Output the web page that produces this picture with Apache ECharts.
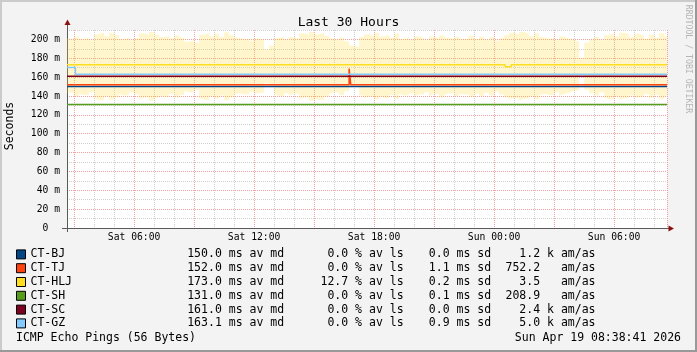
<!DOCTYPE html>
<html>
<head>
<meta charset="utf-8">
<script src="https://cdn.jsdelivr.net/npm/echarts@6/dist/echarts.min.js"></script>
<style>
  html, body { margin: 0; padding: 0; background: #f3f3f3; }
  #chart { width: 697px; height: 352px; }
</style>
</head>
<body>
<div id="chart"></div>
<script>
const MONO = 'DejaVu Sans Mono';

// targets
const names = ['CT-BJ', 'CT-TJ', 'CT-HLJ', 'CT-SH', 'CT-SC', 'CT-GZ'];
const colors = ['#004586', '#ff420e', '#ffde20', '#579d1c', '#7e0021', '#83caff'];

// legend statistics
const medianMs = [150.0, 152.0, 173.0, 131.0, 161.0, 163.1];
const lossPct = [0.0, 0.0, 12.7, 0.0, 0.0, 0.0];
const sdMs = [0.0, 1.1, 0.2, 0.1, 0.0, 0.9];
const amasVal = ['1.2', '752.2', '3.5', '208.9', '2.4', '5.0'];
const amasUnit = ['k', ' ', ' ', ' ', 'k', 'k'];

// y ticks
const yMin = 0, yMax = 210, yStep = 10;

// time window
const tStart = new Date(2026, 3, 18, 2, 38, 41).getTime();
const tEnd = new Date(2026, 3, 19, 8, 38, 41).getTime();
const t = (d, h, m) => new Date(2026, 3, d, h, m, 0).getTime();

// median lines (value holds until the next time)
const bjTimes = [tStart, tEnd];
const bjValues = [150.0, 150.0];
const tjTimes = [tStart, t(18, 16, 45), t(18, 16, 50), tEnd];
const tjValues = [152.0, 169.0, 152.0, 152.0];
const hljTimes = [tStart, t(19, 0, 33), t(19, 0, 51), tEnd];
const hljValues = [173.2, 171.0, 173.2, 173.2];
const shTimes = [tStart, tEnd];
const shValues = [131.0, 131.0];
const scTimes = [tStart, tEnd];
const scValues = [161.0, 161.0];
const gzTimes = [tStart, t(18, 3, 4), tEnd];
const gzValues = [170.3, 163.0, 163.0];

const lineTimes = [bjTimes, tjTimes, hljTimes, shTimes, scTimes, gzTimes];
const lineValues = [bjValues, tjValues, hljValues, shValues, scValues, gzValues];

// CT-HLJ deviation band, 15 minute bins from Sat 02:30
const smokeStart = t(18, 2, 30);
const smokeCenter = 171.5;
const hljSdev = [
  60, 56, 63, 58, 61, 55, 68, 72, 64, 71,
  66, 58, 62, 55, 60, 70, 66, 73, 67, 62,
  65, 59, 66, 61, 52, 55, 50, 67, 71, 64,
  69, 62, 72, 66, 61, 57, 60, 54, 59, 56,
  36, 44, 60, 63, 57, 62, 58, 70, 66, 73,
  68, 71, 64, 59, 55, 61, 53, 44, 40, 62,
  68, 64, 70, 63, 67, 61, 69, 58, 62, 57,
  64, 60, 55, 63, 59, 66, 61, 57, 63, 58,
  60, 65, 58, 63, 56, 62, 54, 60, 66, 71,
  67, 73, 69, 64, 70, 62, 58, 61, 55, 63,
  59, 56, 52, 18, 50, 57, 62, 55, 66, 70,
  64, 71, 68, 62, 69, 65, 59, 67, 61, 70,
  64, 60
];

const days = ['Sun', 'Mon', 'Tue', 'Wed', 'Thu', 'Fri', 'Sat'];
const pad2 = n => String(n).padStart(2, '0');

const chart = echarts.init(document.getElementById('chart'), null, { renderer: 'canvas' });

let series = [];

const smokeTimes = hljSdev.map((s, i) => smokeStart + i * 15 * 60 * 1000);
series.push({
  name: 'hljLow',
  type: 'line',
  stack: 'smoke',
  step: 'end',
  symbol: 'none',
  silent: true,
  lineStyle: { width: 0, opacity: 0 },
  data: hljSdev.map((s, i) => [smokeTimes[i], smokeCenter - s / 2])
});
series.push({
  name: 'hljBand',
  type: 'line',
  stack: 'smoke',
  step: 'end',
  symbol: 'none',
  silent: true,
  lineStyle: { width: 0, opacity: 0 },
  areaStyle: { color: 'rgba(255,214,40,0.23)', opacity: 1 },
  data: hljSdev.map((s, i) => [smokeTimes[i], s])
});

names.forEach((name, i) => {
  series.push({
    name: name,
    type: 'line',
    step: 'end',
    symbol: 'none',
    color: colors[i],
    lineStyle: { width: 1.5, color: colors[i] },
    itemStyle: { color: colors[i] },
    data: lineTimes[i].map((x, j) => [x, lineValues[i][j]])
  });
});

const option = {
  animation: false,
  backgroundColor: '#f3f3f3',
  title: {
    text: 'Last 30 Hours',
    left: 'center',
    top: 11,
    textStyle: { fontFamily: MONO, fontSize: 13, fontWeight: 'normal', color: '#000' }
  },
  grid: {
    left: 67, right: 30, top: 30, bottom: 124,
    show: true, backgroundColor: '#ffffff', borderWidth: 0,
    containLabel: false, outerBoundsMode: 'none'
  },
  legend: {
    data: names,
    orient: 'vertical',
    left: 16,
    top: 247.5,
    padding: 0,
    itemGap: 0,
    itemWidth: 9,
    itemHeight: 9,
    icon: 'rect',
    selectedMode: false,
    itemStyle: { borderColor: '#000', borderWidth: 1 },
    textStyle: {
      fontFamily: MONO, fontSize: 11.5, color: '#000', lineHeight: 13.8,
      rich: {
        n: { width: 156.7, fontFamily: MONO, fontSize: 11.5, lineHeight: 13.8 },
        m: { width: 133.3, fontFamily: MONO, fontSize: 11.5, lineHeight: 13.8 },
        l: { width: 108.3, fontFamily: MONO, fontSize: 11.5, lineHeight: 13.8 },
        s: { width: 76.7, fontFamily: MONO, fontSize: 11.5, lineHeight: 13.8 },
        a: { fontFamily: MONO, fontSize: 11.5, lineHeight: 13.8 }
      }
    },
    formatter: function (name) {
      const i = names.indexOf(name);
      return '{n|' + name + '}' +
        '{m|' + medianMs[i].toFixed(1) + ' ms av md}' +
        '{l|' + lossPct[i].toFixed(1).padStart(4) + ' % av ls}' +
        '{s|' + sdMs[i].toFixed(1) + ' ms sd}' +
        '{a|' + amasVal[i].padStart(5) + ' ' + amasUnit[i] + ' am/as}';
    }
  },
  xAxis: {
    type: 'time',
    min: tStart,
    max: tEnd,
    minInterval: 3600 * 1000,
    maxInterval: 3600 * 1000,
    axisLine: { show: true, lineStyle: { color: '#5a5a5a', width: 1 } },
    axisTick: { show: false },
    axisLabel: {
      fontFamily: MONO, fontSize: 9.7, color: '#000', margin: 4, hideOverlap: false,
      showMinLabel: false, showMaxLabel: false,
      formatter: function (value) {
        const d = new Date(value);
        if (d.getMinutes() !== 0 || d.getSeconds() !== 0 || d.getHours() % 6 !== 0) return '';
        return days[d.getDay()] + ' ' + pad2(d.getHours()) + ':00';
      }
    },
    splitLine: {
      show: true,
      lineStyle: { color: ['#d0d0d0', '#f0a0a0', '#d0d0d0'], type: [1, 1], width: 1 }
    }
  },
  yAxis: {
    type: 'value',
    min: yMin,
    max: yMax,
    interval: yStep,
    axisLine: { show: true, lineStyle: { color: '#5a5a5a', width: 1 } },
    axisTick: { show: false },
    axisLabel: {
      fontFamily: MONO, fontSize: 9.7, color: '#000', margin: 7,
      formatter: function (v) {
        if (v % 20 !== 0) return '';
        return v === 0 ? '0  ' : v + ' m';
      }
    },
    splitLine: {
      show: true,
      lineStyle: { color: ['#f0a0a0', '#d0d0d0'], type: [1, 1], width: 1 }
    }
  },
  graphic: [
    // frame shading
    { type: 'rect', shape: { x: 0, y: 0, width: 697, height: 2 }, style: { fill: '#cbcbcb' }, silent: true },
    { type: 'rect', shape: { x: 0, y: 0, width: 2, height: 352 }, style: { fill: '#cbcbcb' }, silent: true },
    { type: 'rect', shape: { x: 695, y: 0, width: 2, height: 352 }, style: { fill: '#999999' }, silent: true },
    { type: 'rect', shape: { x: 0, y: 350, width: 697, height: 2 }, style: { fill: '#999999' }, silent: true },
    // axis extensions and arrows
    { type: 'line', shape: { x1: 67.5, y1: 23, x2: 67.5, y2: 30 }, style: { stroke: '#5a5a5a', lineWidth: 1 }, silent: true },
    { type: 'line', shape: { x1: 67.5, y1: 228, x2: 67.5, y2: 232 }, style: { stroke: '#5a5a5a', lineWidth: 1 }, silent: true },
    { type: 'line', shape: { x1: 62, y1: 228.5, x2: 67, y2: 228.5 }, style: { stroke: '#5a5a5a', lineWidth: 1 }, silent: true },
    { type: 'line', shape: { x1: 667, y1: 228.5, x2: 670, y2: 228.5 }, style: { stroke: '#5a5a5a', lineWidth: 1 }, silent: true },
    { type: 'polygon', shape: { points: [[64.5, 25], [70.5, 25], [67.5, 19.5]] }, style: { fill: '#8b1010' }, silent: true },
    { type: 'polygon', shape: { points: [[668.5, 225.5], [668.5, 231.5], [674, 228.5]] }, style: { fill: '#8b1010' }, silent: true },
    // texts
    {
      type: 'text', x: 10, y: 126, rotation: Math.PI / 2, silent: true,
      style: { text: 'Seconds', fontFamily: MONO, fontSize: 11.5, fill: '#000', align: 'center', verticalAlign: 'middle' }
    },
    {
      type: 'text', x: 688, y: 59, rotation: -Math.PI / 2, silent: true,
      style: { text: 'RRDTOOL / TOBI OETIKER', fontFamily: MONO, fontSize: 8.2, fill: '#b5b5b5', align: 'center', verticalAlign: 'middle' }
    },
    {
      type: 'text', x: 16, y: 338.5, silent: true,
      style: { text: 'ICMP Echo Pings (56 Bytes)', fontFamily: MONO, fontSize: 11.5, fill: '#000', align: 'left', verticalAlign: 'middle' }
    },
    {
      type: 'text', x: 681, y: 338.5, silent: true,
      style: { text: 'Sun Apr 19 08:38:41 2026', fontFamily: MONO, fontSize: 11.5, fill: '#000', align: 'right', verticalAlign: 'middle' }
    }
  ],
  series: series
};

chart.setOption(option);
</script>
</body>
</html>
